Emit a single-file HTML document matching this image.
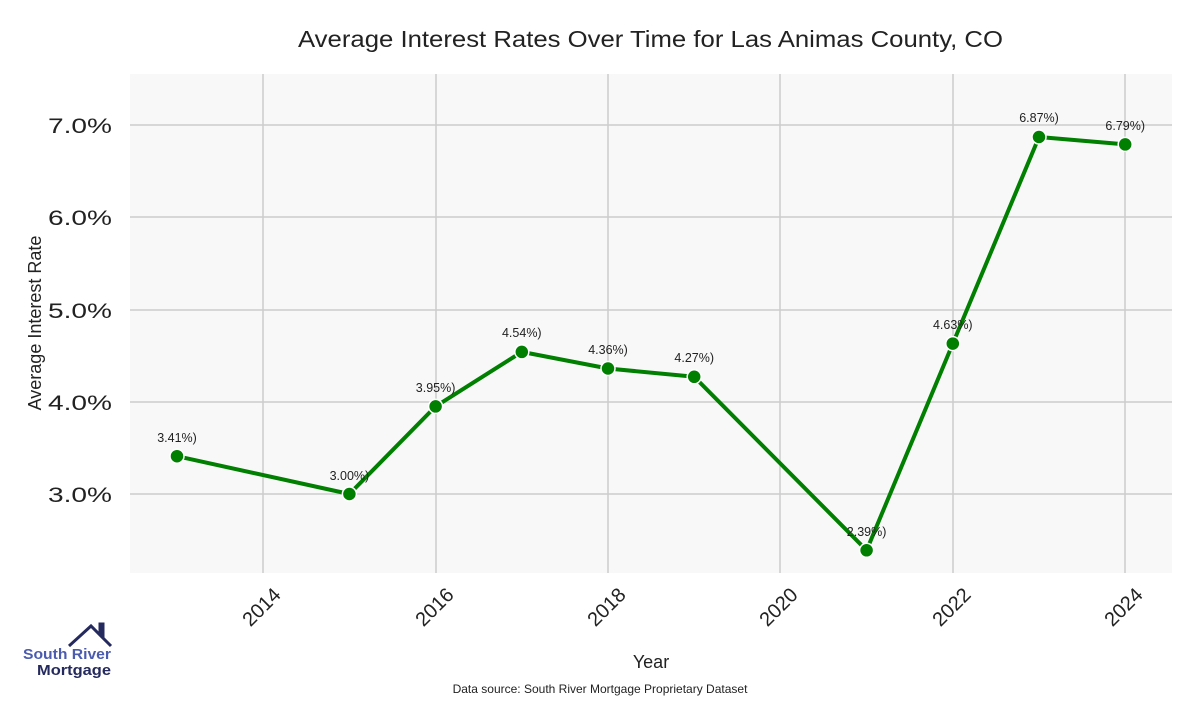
<!DOCTYPE html>
<html><head><meta charset="utf-8"><style>body{margin:0;background:#fff}</style></head><body>
<svg width="1200" height="700" xmlns="http://www.w3.org/2000/svg" font-family="Liberation Sans, sans-serif">
<rect x="130" y="74" width="1042" height="499" fill="#f8f8f8"/>
<g stroke="#cccccc" stroke-width="1.5">
<line x1="263" y1="74" x2="263" y2="573"/><line x1="436" y1="74" x2="436" y2="573"/><line x1="608" y1="74" x2="608" y2="573"/><line x1="780" y1="74" x2="780" y2="573"/><line x1="953" y1="74" x2="953" y2="573"/><line x1="1125" y1="74" x2="1125" y2="573"/>
<line x1="130" y1="125" x2="1172" y2="125"/><line x1="130" y1="217" x2="1172" y2="217"/><line x1="130" y1="310" x2="1172" y2="310"/><line x1="130" y1="402" x2="1172" y2="402"/><line x1="130" y1="494" x2="1172" y2="494"/>
</g>
<text x="298" y="47" textLength="705" lengthAdjust="spacingAndGlyphs" font-size="23" fill="#222">Average Interest Rates Over Time for Las Animas County, CO</text>
<g font-size="21" fill="#222" text-anchor="end">
<text x="112" y="133" textLength="64" lengthAdjust="spacingAndGlyphs">7.0%</text><text x="112" y="225" textLength="64" lengthAdjust="spacingAndGlyphs">6.0%</text><text x="112" y="318" textLength="64" lengthAdjust="spacingAndGlyphs">5.0%</text><text x="112" y="410" textLength="64" lengthAdjust="spacingAndGlyphs">4.0%</text><text x="112" y="502" textLength="64" lengthAdjust="spacingAndGlyphs">3.0%</text>
</g>
<text transform="translate(41,323) rotate(-90)" text-anchor="middle" font-size="18" fill="#222">Average Interest Rate</text>
<g font-size="20" fill="#222" text-anchor="end">
<text transform="translate(282,596) rotate(-45)">2014</text>
<text transform="translate(455,596) rotate(-45)">2016</text>
<text transform="translate(627,596) rotate(-45)">2018</text>
<text transform="translate(799,596) rotate(-45)">2020</text>
<text transform="translate(972,596) rotate(-45)">2022</text>
<text transform="translate(1144,596) rotate(-45)">2024</text>
</g>
<text x="651" y="668" text-anchor="middle" font-size="18" fill="#222">Year</text>
<text x="600" y="693" text-anchor="middle" font-size="12" fill="#222">Data source: South River Mortgage Proprietary Dataset</text>
<polyline fill="none" stroke="#007f00" stroke-width="4" stroke-linejoin="round" points="177,456.2 349.4,494 435.6,406.4 521.8,351.9 608,368.5 694.2,376.8 866.6,550.3 952.8,343.6 1039,137 1125.2,144.4"/>
<g fill="#007f00" stroke="#fff" stroke-width="1.5">
<circle cx="177" cy="456.2" r="7"/><circle cx="349.4" cy="494" r="7"/><circle cx="435.6" cy="406.4" r="7"/><circle cx="521.8" cy="351.9" r="7"/><circle cx="608" cy="368.5" r="7"/><circle cx="694.2" cy="376.8" r="7"/><circle cx="866.6" cy="550.3" r="7"/><circle cx="952.8" cy="343.6" r="7"/><circle cx="1039" cy="137" r="7"/><circle cx="1125.2" cy="144.4" r="7"/>
</g>
<g font-size="12.5" fill="#222" text-anchor="middle">
<text x="177" y="442">3.41%)</text><text x="349.4" y="480">3.00%)</text><text x="435.6" y="392">3.95%)</text><text x="521.8" y="337">4.54%)</text><text x="608" y="354">4.36%)</text><text x="694.2" y="362">4.27%)</text><text x="866.6" y="536">2.39%)</text><text x="952.8" y="329">4.63%)</text><text x="1039" y="122">6.87%)</text><text x="1125.2" y="130">6.79%)</text>
</g>
<polyline fill="none" stroke="#252a5e" stroke-width="3" points="69,646 91,626 100,635 100,624 103,624 103,638 111,646"/>
<text x="23" y="659" textLength="88" lengthAdjust="spacingAndGlyphs" font-size="15" font-weight="bold" fill="#4a5bb0">South River</text>
<text x="37" y="675" textLength="74" lengthAdjust="spacingAndGlyphs" font-size="15" font-weight="bold" fill="#252a5e">Mortgage</text>
</svg>
</body></html>
